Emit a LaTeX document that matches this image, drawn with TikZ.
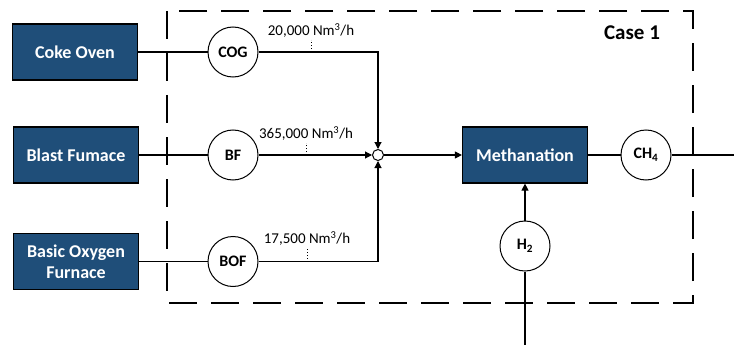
\documentclass[tikz,border=0pt]{standalone}
\usepackage{fontspec}
\setmainfont{Carlito}
\usetikzlibrary{positioning, arrows.meta, calc}
\definecolor{plantblue}{HTML}{1F4E79}

\begin{document}
\begin{tikzpicture}[x=1pt, y=-1pt, >={Triangle[length=7pt, width=7pt]},
    unit/.style={draw=black, line width=1.2pt, fill=plantblue, text=white, align=center,
        font=\fontsize{18}{21}\selectfont\bfseries, minimum width=125pt, minimum height=56pt, inner sep=2pt},
    gas/.style={circle, draw, line width=1pt, fill=white, minimum size=50pt, inner sep=0pt,
        font=\fontsize{16}{18}\selectfont\bfseries},
    flow/.style={font=\fontsize{15}{17}\selectfont, inner sep=2pt},
    pipe/.style={line width=1.1pt}]
    \useasboundingbox (0,0) rectangle (734,345);
    % System boundary
    \draw[line width=1.6pt, dash pattern=on 28pt off 14pt] (167,11) rectangle (693,303);
    \node[font=\fontsize{21}{24}\selectfont\bfseries] (case) at (632,33) {Case 1};
    % Gas sources
    \node[unit] (coke) at (75,52) {Coke Oven};
    \node[unit] (blast) at (76,155) {Blast Fumace};
    \node[unit] (oxy) at (76,261.5) {Basic Oxygen\\Furnace};
    % Gas streams
    \node[gas] (cog) at (233,52) {COG};
    \node[gas] (bf) at (233,155) {BF};
    \node[gas] (bof) at (233,261.5) {BOF};
    \node[circle, draw, line width=1pt, fill=white, minimum size=11pt, inner sep=0pt] (mix) at (378,155) {};
    % Methanation and products
    \node[unit] (meth) at (525,155) {Methanation};
    \node[gas] (ch4) at (646,155) {CH\textsubscript{4}};
    \node[gas] (h2) at (525,246) {H\textsubscript{2}};
    \coordinate (out) at (734,155);
    \coordinate (supply) at (525,345);
    % Connectors
    \draw[pipe] (coke) -- (cog);
    \draw[pipe] (blast) -- (bf);
    \draw[pipe] (oxy) -- (bof);
    \draw[pipe, ->] (cog) -| (mix);
    \draw[pipe, ->] (bf) -- (mix);
    \draw[pipe, ->] (bof) -| (mix);
    \draw[pipe, ->] (mix) -- (meth);
    \draw[pipe] (meth) -- (ch4);
    \draw[pipe] (ch4) -- (out);
    \draw[pipe, ->] (h2) -- (meth);
    \draw[pipe] (h2) -- (supply);
    % Flow rates
    \draw[dotted, line width=1pt] (311,52) -- (311,40) node[flow, above] (cograte) {20,000 Nm\textsuperscript{3}/h};
    \draw[dotted, line width=1pt] (306,155) -- (306,143) node[flow, above] (bfrate) {365,000 Nm\textsuperscript{3}/h};
    \draw[dotted, line width=1pt] (307,261.5) -- (307,248) node[flow, above] (bofrate) {17,500 Nm\textsuperscript{3}/h};
\end{tikzpicture}
\end{document}
